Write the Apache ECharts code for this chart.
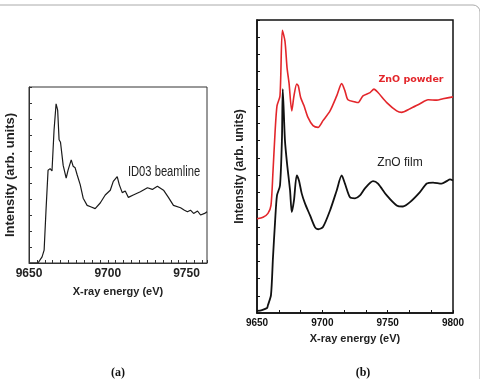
<!DOCTYPE html>
<html>
<head>
<meta charset="utf-8">
<script src="https://cdn.jsdelivr.net/npm/echarts@6/dist/echarts.min.js"></script>
<style>
  html, body { margin: 0; padding: 0; background: #fff; }
  #chart { width: 480px; height: 379px; }
</style>
</head>
<body>
<div id="chart"></div>
<script>
// panel (a): ID03 beamline spectrum
const energyA = [9650.6, 9655.7, 9658.3, 9659.6, 9660.8, 9662.1, 9663.4, 9664.6, 9665.9, 9667.2,
  9668.2, 9669.1, 9670.0, 9671.7, 9673.6, 9674.8, 9676.8, 9678.0, 9679.3, 9680.6,
  9682.5, 9684.4, 9686.9, 9689.5, 9692.0, 9695.2, 9698.4, 9701.6, 9703.5, 9706.0,
  9707.3, 9709.2, 9711.1, 9713.1, 9716.2, 9720.7, 9725.2, 9728.3, 9731.5, 9735.4,
  9738.5, 9741.7, 9746.2, 9748.7, 9750.6, 9752.5, 9754.5, 9757.0, 9758.9, 9761.5, 9763.0];
const intensityA = [0, 0, 0.38, 0.8, 3.3, 5.8, 5.9, 5.75, 8.3, 9.95,
  9.55, 7.7, 7.55, 6.1, 5.3, 5.8, 6.45, 6.05, 5.95, 5.5,
  4.9, 4.05, 3.6, 3.5, 3.4, 3.75, 4.25, 4.55, 5.1, 5.4,
  4.9, 4.4, 4.5, 4.1, 4.25, 4.45, 4.7, 4.6, 4.8, 4.55,
  4.1, 3.6, 3.45, 3.3, 3.2, 3.3, 3.1, 3.25, 3.0, 3.1, 3.2];

// panel (b): ZnO powder (red) and ZnO film (black)
const energyPowder = [9650, 9654.6, 9658.4, 9660.7, 9662.2, 9663.8, 9665.3, 9667.6, 9669.4, 9671.4,
  9673.0, 9674.5, 9676.6, 9678.3, 9680.4, 9681.6, 9683.4, 9686.0, 9689.0, 9692.9,
  9696.7, 9700.5, 9705.9, 9711.0, 9714.8, 9717.3, 9719.6, 9725.0, 9727.3, 9731.1,
  9736.5, 9739.5, 9742.6, 9749.3, 9756.9, 9760.7, 9767.1, 9774.7, 9780.9, 9787.5,
  9792.3, 9800];
const powder = [5.47, 5.55, 5.78, 6.24, 8.15, 10.46, 12.02, 12.6, 16.4, 15.78,
  14.22, 13.35, 11.73, 12.6, 13.29, 13.18, 12.5, 12.02, 11.35, 10.87,
  10.77, 11.16, 11.73, 12.6, 13.31, 12.89, 12.37, 12.25, 12.21, 12.6,
  12.79, 12.99, 12.79, 12.21, 11.73, 11.64, 11.85, 12.14, 12.37, 12.35,
  12.43, 12.54];
const energyFilm = [9650, 9653.8, 9657.7, 9658.4, 9660.7, 9662.2, 9663.8, 9665.3, 9667.6, 9669.1,
  9669.7, 9671.4, 9673.0, 9675.3, 9676.6, 9678.3, 9680.4, 9682.1, 9684.2, 9686.7,
  9690.6, 9694.4, 9696.9, 9700.5, 9705.9, 9711.0, 9714.8, 9717.3, 9721.2, 9725.0,
  9728.8, 9732.6, 9738.8, 9742.6, 9749.3, 9756.9, 9761.7, 9767.1, 9774.7, 9779.9,
  9784.7, 9791.3, 9795.2, 9797.7, 9800];
const film = [0.12, 0.17, 0.29, 0.46, 1.04, 3.18, 5.26, 6.82, 7.4, 10.12,
  12.99, 10.0, 8.67, 7.11, 5.86, 6.53, 7.98, 7.69, 6.94, 6.36,
  5.66, 4.97, 4.86, 4.99, 5.95, 7.11, 7.98, 7.51, 6.71, 6.65,
  6.82, 7.23, 7.65, 7.51, 6.82, 6.24, 6.18, 6.43, 7.01, 7.51,
  7.57, 7.51, 7.65, 7.75, 7.69];

const ticksA = [9650, 9700, 9750];
const ticksB = [9650, 9700, 9750, 9800];

function zip(xs, ys) {
  return xs.map((x, i) => [x, ys[i]]);
}

const sans = '"Liberation Sans", Arial, sans-serif';

const chart = echarts.init(document.getElementById('chart'), null, { renderer: 'canvas' });

const option = {
  backgroundColor: '#fff',
  animation: false,
  grid: [
    { left: 29, top: 87, width: 178, height: 176, show: true, borderColor: '#333', borderWidth: 1 },
    { left: 257, top: 20, width: 196, height: 293, show: true, borderColor: '#111', borderWidth: 1.5 }
  ],
  xAxis: [
    {
      gridIndex: 0, type: 'value', min: 9650, max: 9763, interval: 5,
      name: 'X-ray energy (eV)', nameLocation: 'middle', nameGap: 23,
      nameTextStyle: { fontFamily: sans, fontWeight: 'bold', fontSize: 11, color: '#222' },
      axisLine: { lineStyle: { color: '#333', width: 1 } },
      axisTick: { inside: true, length: 3, lineStyle: { color: '#333' } },
      axisLabel: {
        margin: 5, fontFamily: sans, fontWeight: 'bold', fontSize: 12, color: '#222',
        formatter: v => (ticksA.includes(v) ? String(v) : '')
      },
      splitLine: { show: false }
    },
    {
      gridIndex: 1, type: 'value', min: 9650, max: 9800, interval: 50,
      name: 'X-ray energy (eV)', nameLocation: 'middle', nameGap: 20,
      nameTextStyle: { fontFamily: sans, fontWeight: 'bold', fontSize: 11, color: '#222' },
      axisLine: { lineStyle: { color: '#111', width: 1.5 } },
      axisTick: { inside: true, length: 3, lineStyle: { color: '#111' } },
      minorTick: { show: true, splitNumber: 3, length: 3, lineStyle: { color: '#111' } },
      axisLabel: {
        margin: 5, fontFamily: sans, fontWeight: 'bold', fontSize: 10, color: '#111',
        formatter: v => (ticksB.includes(v) ? String(v) : '')
      },
      splitLine: { show: false }
    }
  ],
  yAxis: [
    {
      gridIndex: 0, type: 'value', min: 0, max: 11, interval: 1,
      name: 'Intensity (arb. units)', nameLocation: 'middle', nameGap: 12, nameRotate: 90,
      nameTextStyle: { fontFamily: sans, fontWeight: 'bold', fontSize: 13, color: '#222' },
      axisLine: { lineStyle: { color: '#333', width: 1 } },
      axisTick: { inside: true, length: 3, lineStyle: { color: '#333' } },
      axisLabel: { show: false },
      splitLine: { show: false }
    },
    {
      gridIndex: 1, type: 'value', min: 0, max: 17, interval: 1,
      name: 'Intensity (arb. units)', nameLocation: 'middle', nameGap: 11, nameRotate: 90,
      nameTextStyle: { fontFamily: sans, fontWeight: 'bold', fontSize: 12, color: '#222' },
      axisLine: { lineStyle: { color: '#111', width: 1.5 } },
      axisTick: { inside: true, length: 3, lineStyle: { color: '#111' } },
      axisLabel: { show: false },
      splitLine: { show: false }
    }
  ],
  series: [
    {
      name: 'ID03 beamline', type: 'line', xAxisIndex: 0, yAxisIndex: 0,
      data: zip(energyA, intensityA), showSymbol: false,
      lineStyle: { color: '#1a1a1a', width: 1.2 }
    },
    {
      name: 'ZnO powder', type: 'line', xAxisIndex: 1, yAxisIndex: 1,
      data: zip(energyPowder, powder), showSymbol: false, smooth: 0.25,
      lineStyle: { color: '#e3262b', width: 1.6 }
    },
    {
      name: 'ZnO film', type: 'line', xAxisIndex: 1, yAxisIndex: 1,
      data: zip(energyFilm, film), showSymbol: false, smooth: 0.25,
      lineStyle: { color: '#111', width: 1.8 }
    }
  ],
  graphic: [
    // light frame around the figure (top and right edges visible)
    {
      type: 'rect', left: -10, top: 2.5, silent: true,
      shape: { width: 487.5, height: 400, r: 7 },
      style: { fill: 'none', stroke: '#aaa', lineWidth: 1 }
    },
    {
      // condensed label, squeezed horizontally
      type: 'text', x: 164, y: 172, scaleX: 0.8, silent: true,
      style: {
        text: 'ID03 beamline', fill: '#222', align: 'center', verticalAlign: 'middle',
        font: '14px "Liberation Sans", Arial, sans-serif'
      }
    },
    {
      type: 'text', x: 411, y: 80, silent: true,
      style: {
        text: 'ZnO powder', fill: '#e3262b', align: 'center', verticalAlign: 'middle',
        font: 'bold 9.5px "DejaVu Sans", sans-serif'
      }
    },
    {
      type: 'text', x: 400, y: 163, silent: true,
      style: {
        text: 'ZnO film', fill: '#222', align: 'center', verticalAlign: 'middle',
        font: '12px "Liberation Sans", Arial, sans-serif'
      }
    },
    {
      type: 'text', x: 118, y: 373, silent: true,
      style: {
        text: '(a)', fill: '#111', align: 'center', verticalAlign: 'middle',
        font: 'bold 12px "Liberation Serif", "Times New Roman", serif'
      }
    },
    {
      type: 'text', x: 363, y: 373, silent: true,
      style: {
        text: '(b)', fill: '#111', align: 'center', verticalAlign: 'middle',
        font: 'bold 12px "Liberation Serif", "Times New Roman", serif'
      }
    }
  ]
};

chart.setOption(option);
</script>
</body>
</html>
